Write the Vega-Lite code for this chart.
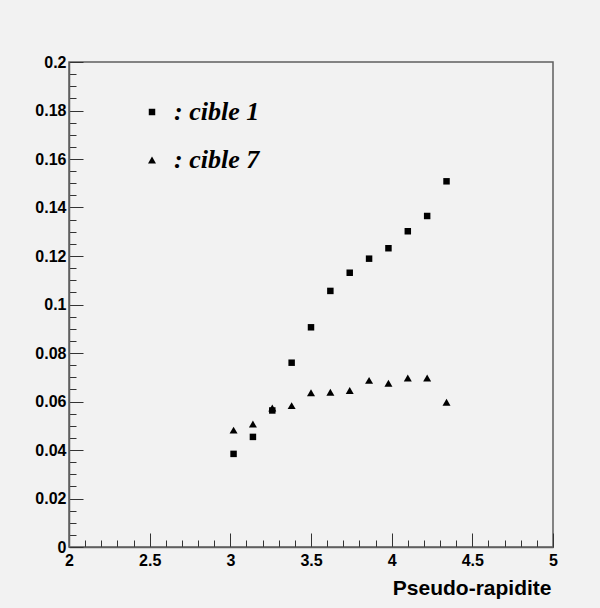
{
  "$schema": "https://vega.github.io/schema/vega-lite/v6.json",
  "width": 484,
  "height": 485,
  "autosize": {"type": "none"},
  "padding": {"left": 69, "top": 62, "right": 47, "bottom": 61},
  "background": "#f2f2f2",
  "config": {
    "view": {"stroke": "#5f5f5f", "strokeWidth": 1.5, "fill": "#f2f2f2"},
    "axis": {
      "grid": false,
      "domainColor": "#5f5f5f",
      "domainWidth": 1.5,
      "tickColor": "#333333",
      "tickWidth": 1,
      "labelFont": "Liberation Sans",
      "labelFontWeight": "bold",
      "labelFontSize": 16,
      "labelColor": "black",
      "labelFlush": false,
      "labelOverlap": false,
      "titleFont": "Liberation Sans",
      "titleFontWeight": "bold",
      "titleFontSize": 21,
      "titleColor": "black"
    },
    "legend": {
      "orient": "none", "legendX": 70, "legendY": 37, "title": null,
      "labelFont": "Liberation Serif", "labelFontStyle": "italic", "labelFontWeight": "bold",
      "labelFontSize": 26, "labelColor": "black", "labelOffset": 9,
      "symbolFillColor": "black", "symbolStrokeColor": "black", "symbolStrokeWidth": 0,
      "rowPadding": 22, "padding": 0
    }
  },
  "data": {
    "values": [
      {"eta": 3.02, "v": 0.0384, "cible": "cible 1"},
      {"eta": 3.14, "v": 0.0454, "cible": "cible 1"},
      {"eta": 3.26, "v": 0.0563, "cible": "cible 1"},
      {"eta": 3.38, "v": 0.0760, "cible": "cible 1"},
      {"eta": 3.50, "v": 0.0906, "cible": "cible 1"},
      {"eta": 3.62, "v": 0.1056, "cible": "cible 1"},
      {"eta": 3.74, "v": 0.1131, "cible": "cible 1"},
      {"eta": 3.86, "v": 0.1189, "cible": "cible 1"},
      {"eta": 3.98, "v": 0.1232, "cible": "cible 1"},
      {"eta": 4.10, "v": 0.1302, "cible": "cible 1"},
      {"eta": 4.22, "v": 0.1365, "cible": "cible 1"},
      {"eta": 4.34, "v": 0.1508, "cible": "cible 1"},
      {"eta": 3.02, "v": 0.0482, "cible": "cible 7"},
      {"eta": 3.14, "v": 0.0507, "cible": "cible 7"},
      {"eta": 3.26, "v": 0.0573, "cible": "cible 7"},
      {"eta": 3.38, "v": 0.0583, "cible": "cible 7"},
      {"eta": 3.50, "v": 0.0636, "cible": "cible 7"},
      {"eta": 3.62, "v": 0.0638, "cible": "cible 7"},
      {"eta": 3.74, "v": 0.0645, "cible": "cible 7"},
      {"eta": 3.86, "v": 0.0687, "cible": "cible 7"},
      {"eta": 3.98, "v": 0.0675, "cible": "cible 7"},
      {"eta": 4.10, "v": 0.0697, "cible": "cible 7"},
      {"eta": 4.22, "v": 0.0697, "cible": "cible 7"},
      {"eta": 4.34, "v": 0.0597, "cible": "cible 7"}
    ]
  },
  "layer": [
    {
      "mark": {"type": "point", "opacity": 0},
      "encoding": {
        "x": {
          "field": "eta", "type": "quantitative",
          "scale": {"domain": [2, 5], "nice": false, "zero": false},
          "axis": {
            "orient": "bottom", "title": null, "labels": false, "domain": false,
            "tickSize": -7,
            "values": [2, 2.1, 2.2, 2.3, 2.4, 2.5, 2.6, 2.7, 2.8, 2.9, 3, 3.1, 3.2, 3.3, 3.4, 3.5, 3.6, 3.7, 3.8, 3.9, 4, 4.1, 4.2, 4.3, 4.4, 4.5, 4.6, 4.7, 4.8, 4.9, 5]
          }
        },
        "y": {
          "field": "v", "type": "quantitative",
          "scale": {"domain": [0, 0.2], "nice": false},
          "axis": {
            "orient": "left", "title": null, "labels": false, "domain": false,
            "tickSize": -7,
            "values": [0, 0.005, 0.01, 0.015, 0.02, 0.025, 0.03, 0.035, 0.04, 0.045, 0.05, 0.055, 0.06, 0.065, 0.07, 0.075, 0.08, 0.085, 0.09, 0.095, 0.1, 0.105, 0.11, 0.115, 0.12, 0.125, 0.13, 0.135, 0.14, 0.145, 0.15, 0.155, 0.16, 0.165, 0.17, 0.175, 0.18, 0.185, 0.19, 0.195, 0.2]
          }
        }
      }
    },
    {
      "mark": {"type": "point", "filled": true, "opacity": 1, "color": "black", "strokeWidth": 0},
      "encoding": {
        "x": {
          "field": "eta", "type": "quantitative",
          "scale": {"domain": [2, 5], "nice": false, "zero": false},
          "axis": {
            "orient": "bottom", "title": "Pseudo-rapidite",
            "tickSize": -14, "labelPadding": 19,
            "values": [2, 2.5, 3, 3.5, 4, 4.5, 5], "format": "~g",
            "titleAnchor": "end", "titleAlign": "right", "titleX": 482, "titleY": 47,
            "titleBaseline": "alphabetic"
          }
        },
        "y": {
          "field": "v", "type": "quantitative",
          "scale": {"domain": [0, 0.2], "nice": false},
          "axis": {
            "orient": "left", "title": null,
            "tickSize": -14, "labelPadding": 17,
            "values": [0, 0.02, 0.04, 0.06, 0.08, 0.1, 0.12, 0.14, 0.16, 0.18, 0.2], "format": "~g"
          }
        },
        "size": {
          "field": "cible", "type": "nominal",
          "scale": {"domain": ["cible 1", "cible 7"], "range": [42, 64]},
          "legend": {"labelExpr": "': ' + datum.label"}
        },
        "shape": {
          "field": "cible", "type": "nominal",
          "scale": {"domain": ["cible 1", "cible 7"], "range": ["square", "triangle-up"]},
          "legend": {"labelExpr": "': ' + datum.label"}
        }
      }
    }
  ],
  "resolve": {"axis": {"x": "independent", "y": "independent"}}
}
